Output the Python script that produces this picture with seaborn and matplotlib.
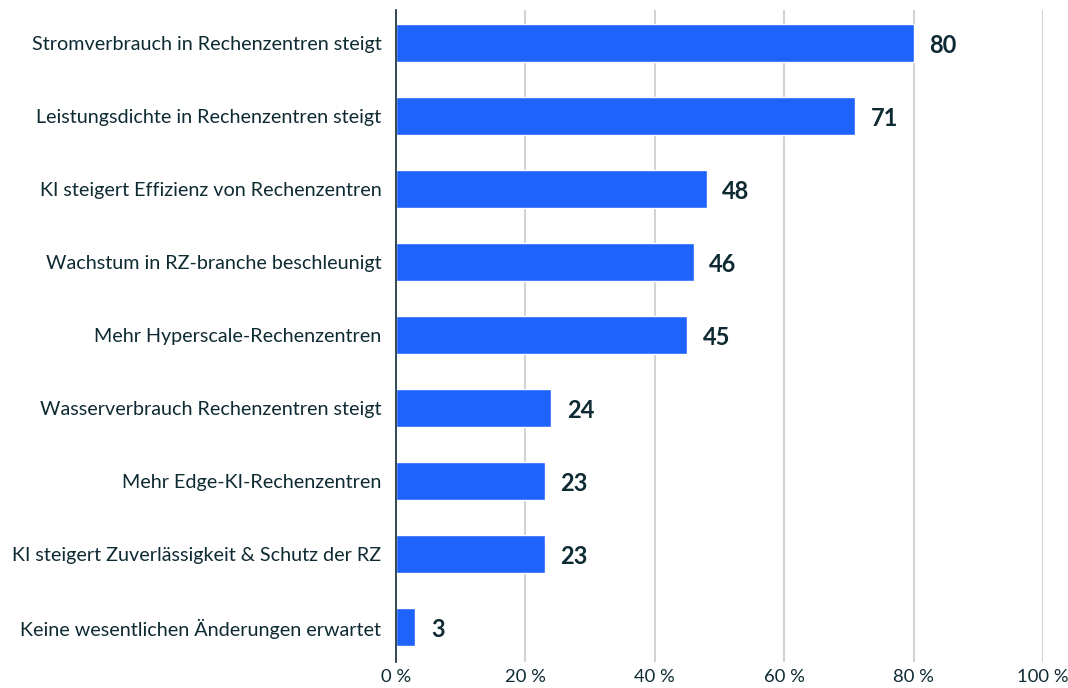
import matplotlib
matplotlib.use("Agg")
import matplotlib.pyplot as plt
import seaborn as sns
import pandas as pd

categories = [
    "Stromverbrauch in Rechenzentren steigt",
    "Leistungsdichte in Rechenzentren steigt",
    "KI steigert Effizienz von Rechenzentren",
    "Wachstum in RZ-branche beschleunigt",
    "Mehr Hyperscale-Rechenzentren",
    "Wasserverbrauch Rechenzentren steigt",
    "Mehr Edge-KI-Rechenzentren",
    "KI steigert Zuverlässigkeit & Schutz der RZ",
    "Keine wesentlichen Änderungen erwartet",
]
values = [80, 71, 48, 46, 45, 24, 23, 23, 3]
x_ticks = [0, 20, 40, 60, 80, 100]

df = pd.DataFrame({"cat": categories, "val": values})

sns.set_theme(style="white")
plt.rcParams["font.family"] = ["Lato", "DejaVu Sans"]

text_col = "#0e2a33"
bar_col = "#1f63ff"

fig = plt.figure(figsize=(10.68, 6.88), dpi=100)
ax = fig.add_axes([0.3708, 0.0378, 0.6058, 0.9477])

sns.barplot(data=df, x="val", y="cat", color=bar_col, width=0.52,
            saturation=1, ax=ax, zorder=3)

ax.set_xlim(0, 100)
ax.set_ylim(8.48, -0.45)
ax.set_xticks(x_ticks)
ax.set_xticklabels([f"{t} %" for t in x_ticks], color=text_col, fontsize=13.3)
ax.tick_params(axis="y", labelsize=14.2, labelcolor=text_col, length=0, pad=10.5)
ax.tick_params(axis="x", length=0, pad=5)
ax.set_xlabel("")
ax.set_ylabel("")

# light vertical grid
for t in x_ticks[1:]:
    ax.axvline(t, color="#d3d3d3", lw=1.5, zorder=1)

for s in ["top", "right", "bottom"]:
    ax.spines[s].set_visible(False)
ax.spines["left"].set_color(text_col)
ax.spines["left"].set_linewidth(1.2)
ax.spines["left"].set_zorder(4)

for i, v in enumerate(values):
    ax.text(v + 2.4, i + 0.03, str(v), va="center", ha="left", fontsize=17,
            fontweight="bold", color=text_col)

fig.savefig("out.png", dpi=100)
